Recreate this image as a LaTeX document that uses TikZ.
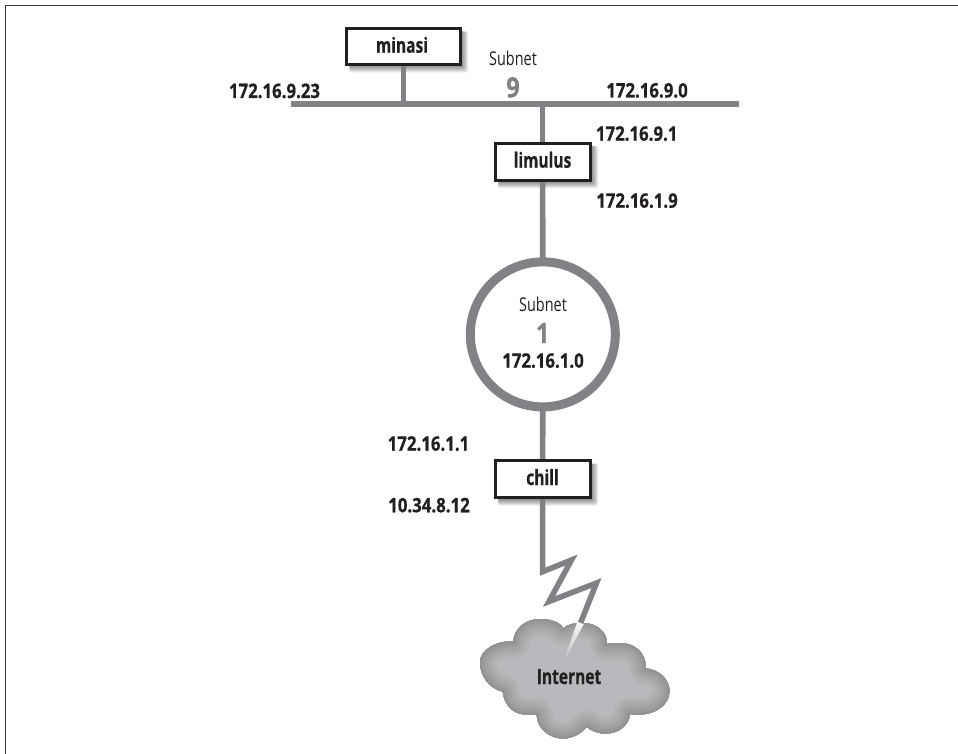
\documentclass[tikz,border=0pt]{standalone}
\usepackage{fontspec}
\setmainfont{Open Sans}
\newfontfamily\fb[FakeStretch=0.84,FakeBold=0.6]{Open Sans Bold}
\newfontfamily\fh[FakeStretch=0.74,FakeBold=0.6]{Open Sans Bold}
\newfontfamily\fr[FakeStretch=0.76]{Open Sans}
\usetikzlibrary{backgrounds}
\definecolor{wire}{HTML}{808285}
\definecolor{ink}{HTML}{231F20}
\def\cloudpath{(513.3,641.7) .. controls (514,628) and (526,619) .. (540,619) .. controls (550,619) and (560,622) .. (563.3,628.3) .. controls (568,624) and (575,623) .. (583,623) .. controls (596,623) and (608,632) .. (606.7,644) .. controls (611,643) and (616,643) .. (620,643) .. controls (634,643) and (646,652) .. (646,668.3) .. controls (660,670) and (669.5,680) .. (669.5,691) .. controls (669.5,705) and (655,714.5) .. (640,714.5) .. controls (636,714.5) and (633,714.5) .. (630,714) .. controls (629,725) and (619,733.5) .. (606,733.5) .. controls (598,733.5) and (591,731) .. (586.7,726.7) .. controls (581,734) and (572,738.5) .. (563,738.5) .. controls (549,738.5) and (537,728) .. (536.7,715) .. controls (533,715) and (528,714.5) .. (523,714.3) .. controls (512,713) and (504,704) .. (502.7,691.7) .. controls (488,688) and (480,675) .. (480,662) .. controls (480,650) and (497,640) .. (513.3,641.7) -- cycle}
\newcommand{\boxshade}[1]{%
  \foreach \d in {1,...,8}{
    \fill[black,opacity=0.08,rounded corners=1.5pt] ([shift={(3,3)}]#1.north west) rectangle ([shift={(\d,\d)}]#1.south east);
  }}
\tikzset{
  hostbox/.style={draw=ink,line width=3pt,fill=white,rectangle,outer sep=0pt,inner sep=0pt},
  wireline/.style={draw=wire,line width=5.6pt,line cap=butt},
  addr/.style={anchor=base,inner sep=0pt,text=ink,font=\fb\fontsize{20}{21}\selectfont},
  hostlabel/.style={anchor=base,inner sep=0pt,text=ink,font=\fh\fontsize{21}{22}\selectfont},
  sublabel/.style={anchor=base,inner sep=0pt,text=ink,font=\fr\fontsize{19}{20}\selectfont},
  subnum/.style={anchor=base,inner sep=0pt,text=wire,font=\fb\fontsize{28}{30}\selectfont},
}
\begin{document}
\begin{tikzpicture}[x=1pt,y=-1pt]
\useasboundingbox (0,0) rectangle (958,754);
\draw[color=ink!90,line width=1.6pt] (958,5.5) -- (5.5,5.5) -- (5.5,754);

\coordinate (busL) at (291,104);
\coordinate (busR) at (739,104);
\node[hostbox,minimum width=113.7pt,minimum height=36pt] (minasi) at (403.3,46.5) {};
\node[hostbox,minimum width=95.2pt,minimum height=37pt] (limulus) at (542.6,161.7) {};
\node[hostbox,minimum width=95.2pt,minimum height=37pt] (chill) at (542.6,479) {};
\node[draw=wire,line width=9pt,circle,minimum size=145pt,inner sep=0pt,outer sep=0pt] (ring) at (542.8,334.4) {};

\node[hostlabel] (tminasi) at (402,52.7) {minasi};
\node[hostlabel] (tlimulus) at (542.5,167.7) {limulus};
\node[hostlabel] (tchill) at (542.5,485) {chill};
\node[addr] (a1) at (274.5,98) {172.16.9.23};
\node[addr] (a2) at (647,97.5) {172.16.9.0};
\node[addr] (a3) at (636.7,140.7) {172.16.9.1};
\node[addr] (a4) at (637,207.7) {172.16.1.9};
\node[addr] (a5) at (428.5,450.7) {172.16.1.1};
\node[addr] (a6) at (429,512.3) {10.34.8.12};
\node[addr] (a7) at (543,367.7) {172.16.1.0};
\node[sublabel] (s9) at (513,65.7) {Subnet};
\node[subnum] (n9) at (513,97.3) {9};
\node[sublabel] (s1) at (543,311) {Subnet};
\node[subnum] (n1) at (542.7,343) {1};

\coordinate (z1) at (542.6,571.7);
\coordinate (z2) at (571.5,560);
\coordinate (z3) at (549,601.5);
\coordinate (z4) at (596.5,583);
\coordinate (z5) at (580.5,623);

\begin{pgfonlayer}{background}
  \boxshade{minasi}
  \boxshade{limulus}
  \boxshade{chill}
  \draw[wireline] (busL) -- (busR);
  \draw[wireline] (minasi.south) -- (minasi.south |- busL);
  \draw[wireline] (limulus.north) -- (limulus.north |- busL);
  \draw[wireline] (limulus.south) -- (ring.north);
  \draw[wireline] (ring.south) -- (chill.north);
  \draw[wireline,miter limit=10] (chill.south) -- (z1) -- (z2) -- (z3) -- (z4) -- (z5);
\end{pgfonlayer}

\begin{scope}
  \clip \cloudpath;
  \fill[color={rgb,255:red,184;green,185;blue,188}] (470,610) rectangle (680,745);
  \foreach \w/\g in {34/182,31/179,28/176,25/173,22/170,19/167,16/164,13/161,10/157,7/153,4/149,2/145}{
    \draw[line width=\w pt,color={rgb,255:red,\g;green,\g;blue,\g},line join=round] \cloudpath;
  }
\end{scope}

\foreach \i [evaluate=\i as \t using \i/12, evaluate=\i as \u using (\i+1)/12, evaluate=\i as \o using 0.95*(1-\i/12)] in {0,...,11}{
  \fill[white,opacity=\o] ({580.5-17*\t-3.2*(1-\t)},{623+39*\t-1.2*(1-\t)}) -- ({580.5-17*\t+3.2*(1-\t)},{623+39*\t+1.2*(1-\t)}) -- ({580.5-17*\u+3.2*(1-\u)},{623+39*\u+1.2*(1-\u)}) -- ({580.5-17*\u-3.2*(1-\u)},{623+39*\u-1.2*(1-\u)}) -- cycle;
}
\node[hostlabel] (tinternet) at (569,684) {Internet};
\end{tikzpicture}
\end{document}
